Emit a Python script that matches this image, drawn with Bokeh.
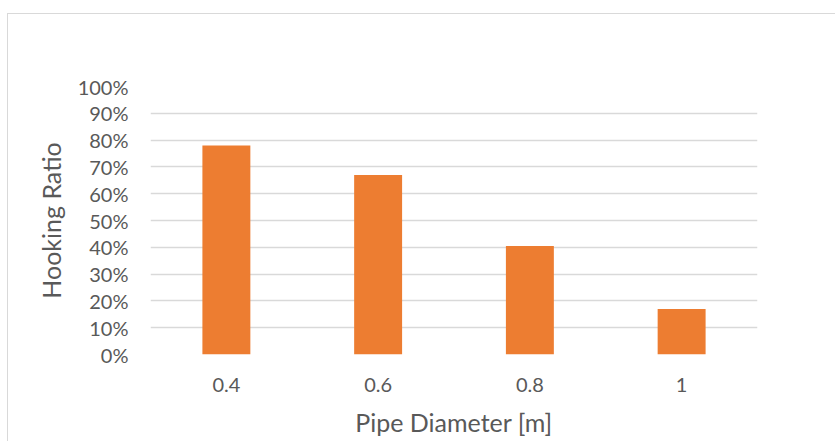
from bokeh.plotting import figure
from bokeh.models import (FactorRange, Range1d, FixedTicker, PrintfTickFormatter,
                          ColumnDataSource, InlineStyleSheet)
from bokeh.embed import file_html
from bokeh.resources import INLINE

# Hooking ratio per pipe diameter
diameters = ["0.4", "0.6", "0.8", "1"]
hooking_ratio_pct = [78, 67, 40.5, 17]
y_ticks = [0, 10, 20, 30, 40, 50, 60, 70, 80, 90, 100]

FONT = "Lato"
TEXT = "#595959"
GRID = "#d9d9d9"
ORANGE = "#ED7D31"

source = ColumnDataSource(data=dict(x=diameters, y=hooking_ratio_pct))

p = figure(
    x_range=FactorRange(factors=diameters, range_padding=0),
    y_range=Range1d(0, 100),
    frame_width=607, frame_height=268,
    min_border_left=150, min_border_right=78,
    min_border_top=86, min_border_bottom=87,
    output_backend="svg", toolbar_location=None,
)
p.outline_line_color = None
p.background_fill_color = None
p.border_fill_color = None

p.vbar(x="x", top="y", width=0.316, source=source,
       fill_color=ORANGE, line_color=None)

# grid
p.xgrid.grid_line_color = None
p.ygrid.grid_line_color = GRID
p.ygrid.grid_line_width = 1.3

# y axis
p.yaxis.ticker = FixedTicker(ticks=y_ticks)
p.yaxis.formatter = PrintfTickFormatter(format="%d%%")
p.yaxis.axis_label = "Hooking Ratio"
# x axis
p.xaxis.axis_label = "Pipe Diameter [m]"

for ax in (p.xaxis, p.yaxis):
    ax.axis_line_color = None
    ax.major_tick_line_color = None
    ax.minor_tick_line_color = None
    ax.major_tick_out = 0
    ax.major_tick_in = 0
    ax.major_label_text_font = FONT
    ax.major_label_text_font_size = "20px"
    ax.major_label_text_color = TEXT
    ax.axis_label_text_font = FONT
    ax.axis_label_text_font_size = "25px"
    ax.axis_label_text_font_style = "normal"
    ax.axis_label_text_color = TEXT

p.yaxis.major_label_standoff = 22
p.yaxis.axis_label_standoff = 9
p.xaxis.major_label_standoff = 23
p.xaxis.axis_label_standoff = 12

# chart-area border (left and top edges)
p.stylesheets = [InlineStyleSheet(css="""
:host { position: relative; background: #ffffff; }
:host::after {
  content: ""; position: absolute; left: 7px; top: 13px; right: -20px; bottom: -20px;
  border-left: 1px solid #d9d9d9; border-top: 1px solid #d9d9d9;
  pointer-events: none;
}
""")]

open("out.html", "w").write(file_html(p, INLINE))
